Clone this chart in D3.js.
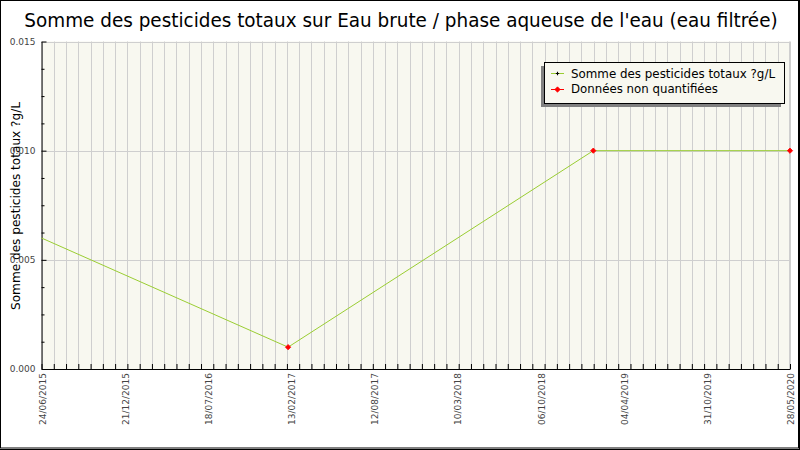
<!DOCTYPE html>
<html>
<head>
<meta charset="utf-8">
<script src="https://cdn.jsdelivr.net/npm/d3@7"></script>
<style>
  html, body { margin: 0; padding: 0; background: #fff; }
  svg { display: block; }
  text { font-family: "DejaVu Sans", sans-serif; }
</style>
</head>
<body>
<svg id="chart" width="800" height="450"></svg>
<script>
// ---- data ----
const titleText = "Somme des pesticides totaux sur Eau brute / phase aqueuse de l'eau (eau filtrée)";
const yAxisTitle = "Somme des pesticides totaux ?g/L";
const seriesNames = ["Somme des pesticides totaux ?g/L", "Données non quantifiées"];
const sampleDates = ["24/06/2015", "06/02/2017", "10/02/2019", "28/05/2020"];
const sampleValues = [0.006, 0.001, 0.010, 0.010];
const nonQuantified = [false, true, true, true];
const xDomainDates = ["24/06/2015", "28/05/2020"];
const xTickLabels = ["24/06/2015", "21/12/2015", "18/07/2016", "13/02/2017", "12/08/2017",
                     "10/03/2018", "06/10/2018", "04/04/2019", "31/10/2019", "28/05/2020"];
const yTicks = [0.000, 0.005, 0.010, 0.015];
const yMinorStep = 0.00125;
const xGridIntervals = 61;

// ---- layout ----
const W = 800, H = 450;
const plot = { left: 41.5, right: 790, top: 41.5, bottom: 369 };
const lineColor = "#9acd32";
const bg = "#f8f8f0";
const gridColor = "#cfcfcf";

const parse = d3.utcParse("%d/%m/%Y");
const svg = d3.select("#chart");

const d0 = parse(xDomainDates[0]), d1 = parse(xDomainDates[1]);
const x = d3.scaleUtc().domain([d0, d1]).range([plot.left, plot.right]);
const y = d3.scaleLinear().domain([0, 0.015]).range([plot.bottom, plot.top]);

svg.append("rect").attr("x", 0).attr("y", 0).attr("width", W).attr("height", H).attr("fill", "#fff");

// plot background
svg.append("rect")
  .attr("x", plot.left).attr("y", plot.top)
  .attr("width", plot.right - plot.left).attr("height", plot.bottom - plot.top)
  .attr("fill", bg);

// vertical grid
const span = d1 - d0;
const gridDates = d3.range(xGridIntervals + 1).map(i => new Date(+d0 + span * i / xGridIntervals));
svg.append("g").selectAll("line").data(gridDates).join("line")
  .attr("x1", d => Math.round(x(d)) + 0.5).attr("x2", d => Math.round(x(d)) + 0.5)
  .attr("y1", plot.top).attr("y2", plot.bottom)
  .attr("stroke", gridColor).attr("stroke-width", 1);

// horizontal grid
svg.append("g").selectAll("line").data(yTicks.filter(v => v > 0)).join("line")
  .attr("x1", plot.left).attr("x2", plot.right)
  .attr("y1", d => Math.round(y(d)) + 0.5).attr("y2", d => Math.round(y(d)) + 0.5)
  .attr("stroke", gridColor).attr("stroke-width", 1);

svg.append("line")
  .attr("x1", plot.right - 0.5).attr("x2", plot.right - 0.5)
  .attr("y1", plot.top).attr("y2", plot.bottom)
  .attr("stroke", gridColor);

// y axis title (drawn under tick labels, as in the reference)
svg.append("text")
  .attr("transform", "translate(20,310) rotate(-90)")
  .attr("font-size", 13).attr("fill", "#000")
  .attr("textLength", 208).attr("lengthAdjust", "spacingAndGlyphs")
  .text(yAxisTitle);

// y axis (major)
const yAxis = d3.axisLeft(y).tickValues(yTicks).tickSizeInner(-5).tickSizeOuter(0)
  .tickPadding(6).tickFormat(d3.format(".3f"));
const gy = svg.append("g").attr("transform", `translate(${plot.left},0)`).call(yAxis);
gy.select(".domain").attr("stroke", "#000");
gy.selectAll(".tick line").attr("stroke", "#000");
gy.selectAll(".tick text").attr("font-family", "DejaVu Sans, sans-serif")
  .attr("font-size", 9).attr("fill", "#444");

// y minor ticks
const yMinor = d3.range(0, 0.015 + 1e-9, yMinorStep).filter(v => !yTicks.some(t => Math.abs(t - v) < 1e-9));
const yMinorAxis = d3.axisLeft(y).tickValues(yMinor).tickSizeInner(-3).tickSizeOuter(0).tickFormat("");
const gym = svg.append("g").attr("transform", `translate(${plot.left},0)`).call(yMinorAxis);
gym.select(".domain").remove();
gym.selectAll(".tick line").attr("stroke", "#000");

// x minor ticks
const xMinorAxis = d3.axisBottom(x).tickValues(gridDates).tickSizeInner(-5).tickSizeOuter(0).tickFormat("");
const gxm = svg.append("g").attr("transform", `translate(0,${plot.bottom})`).call(xMinorAxis);
gxm.select(".domain").attr("stroke", "#000");
gxm.selectAll(".tick line").attr("stroke", "#000");

// x labels
const labelDates = xTickLabels.map((_, i) => new Date(+d0 + span * i / (xTickLabels.length - 1)));
const xAxis = d3.axisBottom(x).tickValues(labelDates).tickSize(0)
  .tickFormat((d, i) => xTickLabels[i]);
const gx = svg.append("g").attr("transform", `translate(0,${plot.bottom})`).call(xAxis);
gx.select(".domain").remove();
gx.selectAll(".tick text")
  .attr("font-family", "DejaVu Sans, sans-serif").attr("font-size", 9).attr("fill", "#444")
  .attr("transform", "rotate(-90)")
  .attr("text-anchor", "end")
  .attr("x", -4).attr("y", 3.5).attr("dy", 0);

// data line
const pts = sampleDates.map((d, i) => ({ date: parse(d), value: sampleValues[i], nq: nonQuantified[i] }));
const line = d3.line().x(d => x(d.date)).y(d => y(d.value));
svg.append("path").datum(pts)
  .attr("d", line).attr("fill", "none")
  .attr("stroke", lineColor).attr("stroke-width", 1);

// markers for non-quantified
const diamond = d3.symbol().type(d3.symbolDiamond2).size(18);
svg.append("g").selectAll("path").data(pts.filter(d => d.nq)).join("path")
  .attr("d", diamond)
  .attr("transform", d => `translate(${x(d.date)},${y(d.value)})`)
  .attr("fill", "#ff0000").attr("stroke", "#ff0000").attr("stroke-width", 0.8);

// title (horizontally condensed via a scale transform to fit 754px)
const title = svg.append("text")
  .attr("x", 0).attr("y", 0)
  .attr("text-anchor", "middle")
  .attr("font-size", 20).attr("fill", "#000")
  .text(titleText);
const natural = title.node().getComputedTextLength();
const sx = Math.min(1, 754 / natural);
title.attr("transform", `translate(401,27) scale(${sx},1)`);

// legend
const lg = svg.append("g");
lg.append("rect").attr("x", 541).attr("y", 66).attr("width", 240).attr("height", 41).attr("fill", "#808080");
lg.append("rect").attr("x", 544.5).attr("y", 62.5).attr("width", 240).attr("height", 41)
  .attr("fill", bg).attr("stroke", "#000").attr("stroke-width", 1);
const legendRows = [
  { name: seriesNames[0], color: lineColor, marker: "plus", yLine: 73.5, yText: 77.5, len: 204 },
  { name: seriesNames[1], color: "#ff0000", marker: "diamond", yLine: 89.5, yText: 93, len: 147 }
];
legendRows.forEach(r => {
  lg.append("line").attr("x1", 551).attr("x2", 564).attr("y1", r.yLine).attr("y2", r.yLine)
    .attr("stroke", r.color).attr("stroke-width", 1);
  if (r.marker === "plus") {
    lg.append("path").attr("d", d3.symbol().type(d3.symbolCross).size(6))
      .attr("transform", `translate(557.5,${r.yLine})`).attr("fill", "#000");
  } else {
    lg.append("path").attr("d", diamond)
      .attr("transform", `translate(557.5,${r.yLine})`)
      .attr("fill", "#ff0000").attr("stroke", "#ff0000").attr("stroke-width", 0.8);
  }
  lg.append("text").attr("x", 571).attr("y", r.yText)
    .attr("font-size", 12).attr("fill", "#000")
    .attr("textLength", r.len).attr("lengthAdjust", "spacingAndGlyphs")
    .text(r.name);
});

// outer frame
svg.append("rect").attr("x", 0.5).attr("y", 0.5).attr("width", 798).attr("height", 447.5)
  .attr("fill", "none").attr("stroke", "#000").attr("stroke-width", 1);
svg.append("line").attr("x1", 799.5).attr("x2", 799.5).attr("y1", 0).attr("y2", 450).attr("stroke", "#000");
svg.append("line").attr("x1", 0).attr("x2", 800).attr("y1", 449.5).attr("y2", 449.5).attr("stroke", "#000");
</script>
</body>
</html>
